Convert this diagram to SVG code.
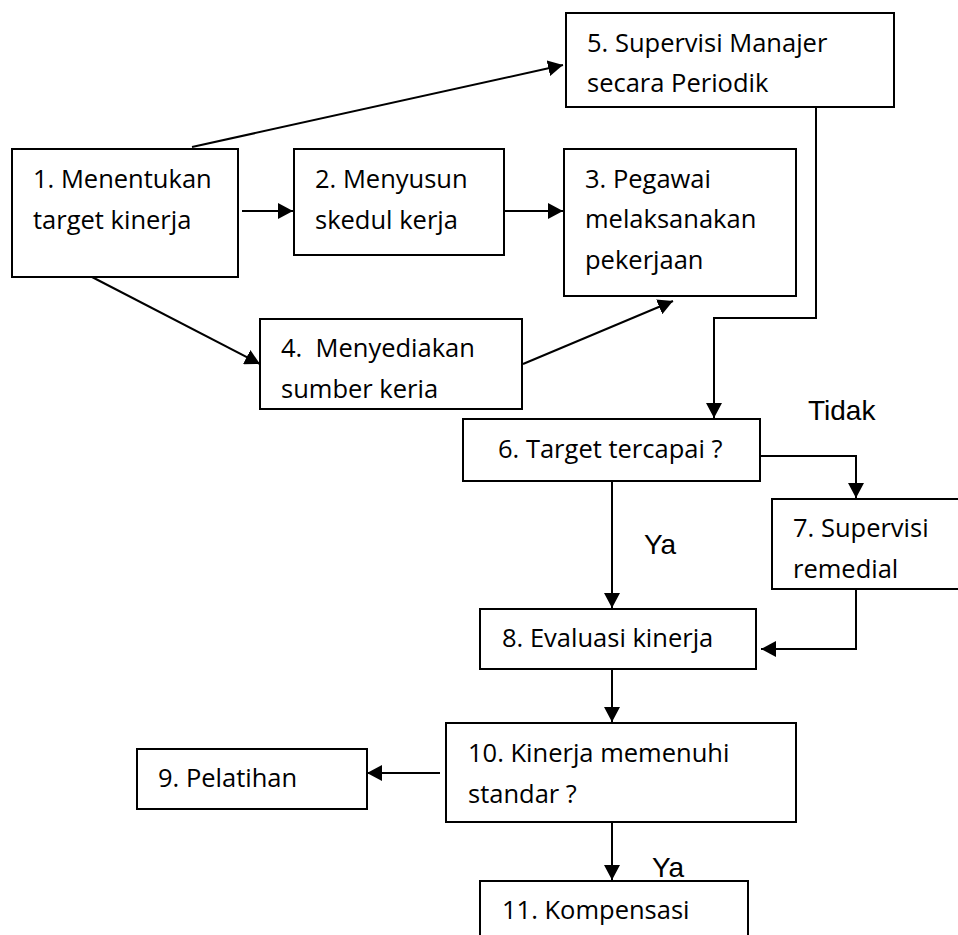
<svg xmlns="http://www.w3.org/2000/svg" width="958" height="935" viewBox="0 0 958 935">
<defs>
<marker id="arr" viewBox="0 0 15 16" refX="15" refY="8" markerWidth="15" markerHeight="16" markerUnits="userSpaceOnUse" orient="auto">
<path d="M0,0 L15,8 L0,16 z" fill="#000"/>
</marker>
<style>
.box{fill:#fff;stroke:#000;stroke-width:2}
.t{font-family:"Open Sans","Noto Sans",sans-serif;font-size:25.5px;fill:#000}
.lbl{font-family:"Liberation Sans",Arial,sans-serif;font-size:28px;fill:#000}
.c{fill:none;stroke:#000;stroke-width:2;marker-end:url(#arr)}
</style>
</defs>
<rect width="958" height="935" fill="#fff"/>
<g id="connectors">
<path class="c" d="M242,211 L293,211"/>
<path class="c" d="M504,211 L563,211"/>
<path class="c" d="M192,147 L563,65"/>
<path class="c" d="M92,277 L260,364"/>
<path class="c" d="M523,364 L673,301"/>
<path class="c" d="M816,107 L816,318 L714,318 L714,418"/>
<path class="c" d="M760,456 L856,456 L856,498"/>
<path class="c" d="M612,481 L612,608"/>
<path class="c" d="M856,589 L856,649 L761,649"/>
<path class="c" d="M612,669 L612,722"/>
<path class="c" d="M440,773 L367,773"/>
<path class="c" d="M612,822 L612,880"/>
<text class="lbl" x="808" y="420">Tidak</text>
<text class="lbl" x="644" y="554">Ya</text>
<text class="lbl" x="652" y="877">Ya</text>
</g>
<g id="n1"><rect class="box" x="12" y="149" width="226" height="128"/><text class="t" x="33" y="188">1. Menentukan</text><text class="t" x="33" y="229">target kinerja</text></g>
<g id="n2"><rect class="box" x="294" y="149" width="210" height="106"/><text class="t" x="315" y="188">2. Menyusun</text><text class="t" x="315" y="229">skedul kerja</text></g>
<g id="n3"><rect class="box" x="564" y="149" width="232" height="147"/><text class="t" x="585" y="188">3. Pegawai</text><text class="t" x="585" y="228">melaksanakan</text><text class="t" x="585" y="269">pekerjaan</text></g>
<g id="n4"><rect class="box" x="260" y="319" width="262" height="90"/><text class="t" x="281" y="357" xml:space="preserve">4.  Menyediakan</text><text class="t" x="281" y="398">sumber keria</text></g>
<g id="n5"><rect class="box" x="566" y="13" width="328" height="94"/><text class="t" x="587" y="52">5. Supervisi Manajer</text><text class="t" x="587" y="92">secara Periodik</text></g>
<g id="n6"><rect class="box" x="463" y="419" width="297" height="62"/><text class="t" x="498" y="458">6. Target tercapai ?</text></g>
<g id="n7"><rect class="box" x="772" y="499" width="200" height="90"/><text class="t" x="793" y="537">7. Supervisi</text><text class="t" x="793" y="578">remedial</text></g>
<g id="n8"><rect class="box" x="480" y="609" width="276" height="60"/><text class="t" x="502" y="647">8. Evaluasi kinerja</text></g>
<g id="n9"><rect class="box" x="137" y="749" width="230" height="60"/><text class="t" x="158" y="787">9. Pelatihan</text></g>
<g id="n10"><rect class="box" x="446" y="723" width="350" height="99"/><text class="t" x="468" y="762">10. Kinerja memenuhi</text><text class="t" x="468" y="803">standar ?</text></g>
<g id="n11"><rect class="box" x="480" y="881" width="268" height="70"/><text class="t" x="502" y="919">11. Kompensasi</text></g>
</svg>
